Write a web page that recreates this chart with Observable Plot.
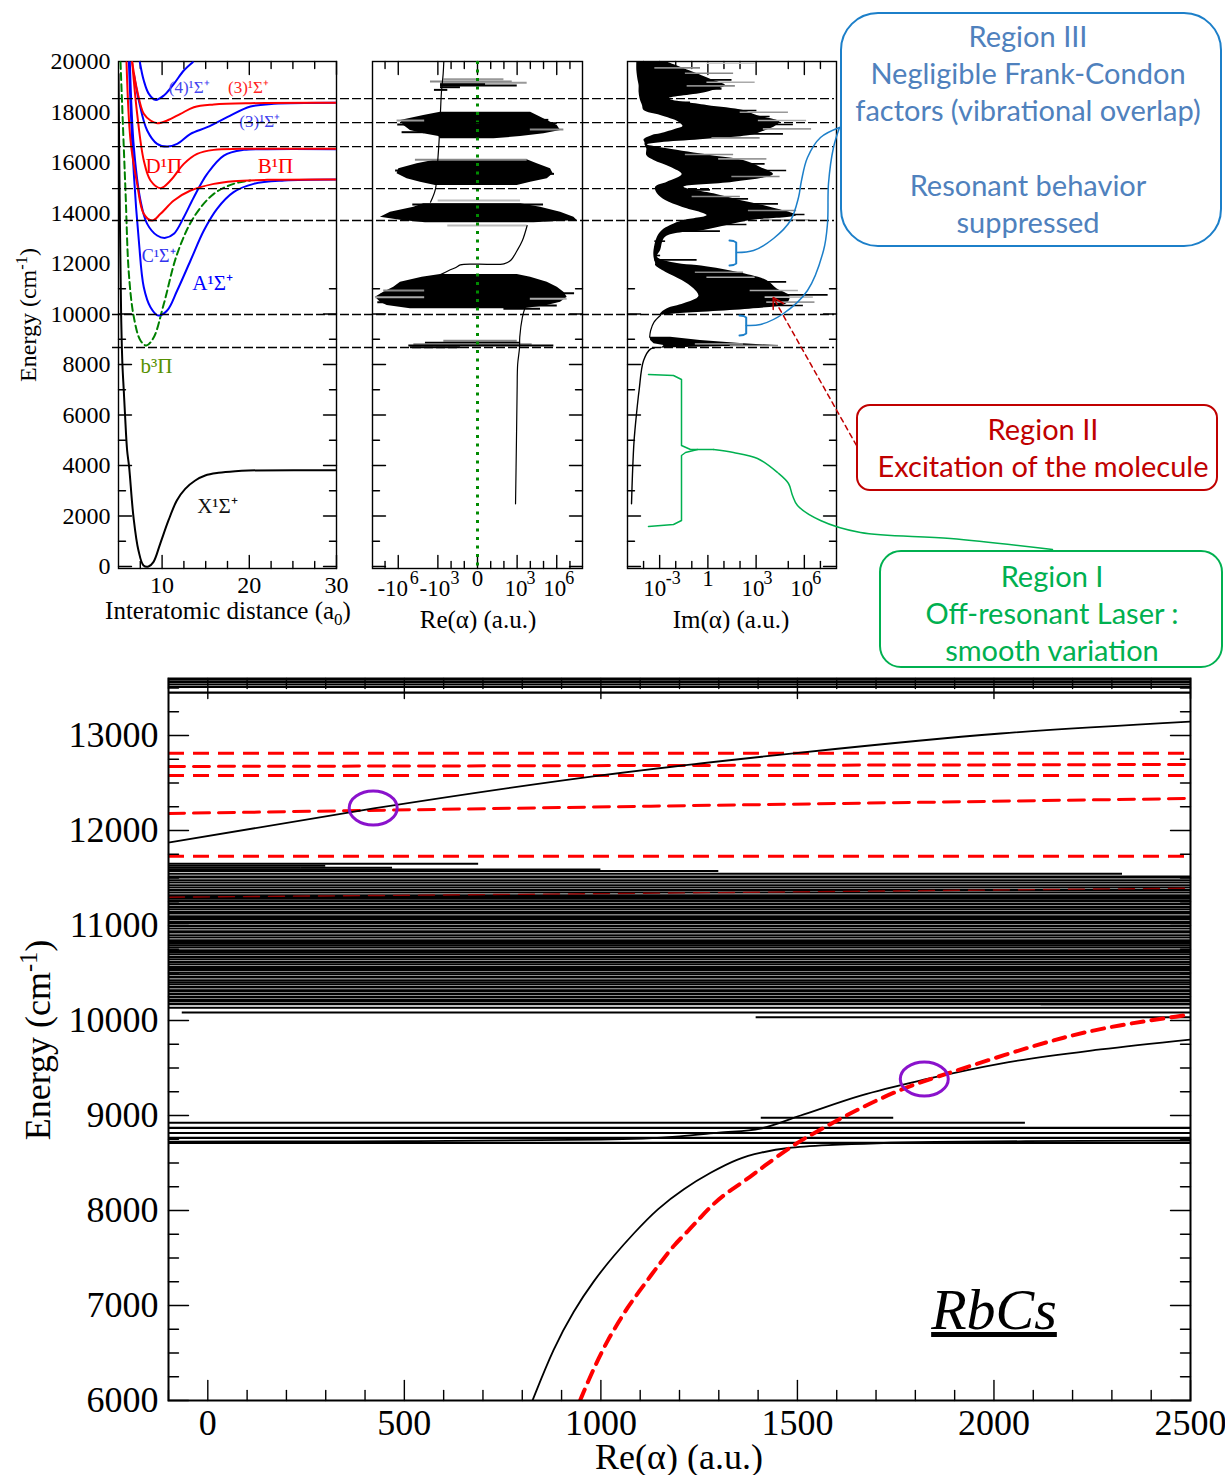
<!DOCTYPE html>
<html><head><meta charset="utf-8">
<script src="https://cdn.jsdelivr.net/npm/d3@7"></script>
<script src="https://cdn.jsdelivr.net/npm/@observablehq/plot@0.6"></script>
<style>
html,body{margin:0;background:#fff}
#stage{position:relative;width:1225px;height:1475px;overflow:hidden;background:#fff}
#stage svg{position:absolute;overflow:visible;background:transparent}
.lab{position:absolute;white-space:nowrap;transform-origin:center;line-height:1}
.box{position:absolute;box-sizing:border-box;background:#fff}
sub,sup{font-size:68%;line-height:0}
</style></head><body><div id="stage"></div>
<script>
// ---------- potential curves (panel A): r in a0, E in cm-1
const xR=[5,5.15,5.3,5.45,5.6,5.75,5.99,6.22,6.72,7.29,7.87,8.44,9,9.78,10.73,11.69,12.65,13.8,14.94,16.47,18.38,19.9,30];
const xE=[19500,14000,10000,8000,7000,6000,4594,3934,1954,634,40,0,172,898,1822,2614,3076,3406,3604,3710,3776,3802,3810];
const aR=[6.19,6.76,7.33,7.9,8.67,9.55,10.58,11.73,13.26,14.79,16.3,18.2,20.5,24,30];
const aE=[19972,15550,12910,11062,10270,9940,10138,10930,12118,13306,14164,14824,15154,15286,15326];
const bR=[5.23,5.8,6.19,6.76,7.52,8.21,9.05,10.2,11.73,13.64,15.93,18.2,20.1];
const bE=[19972,14890,11590,9874,8950,8752,9082,10402,12382,13834,14758,15154,15286];
const cR=[6.3,6.76,7.52,8.29,9.43,10.39,11.35,12.49,13.64,15.17,17.08,19.37,22.05,30];
const cE=[19972,16606,14494,13570,13108,13016,13174,13834,14626,15550,16276,16500,16527,16527];
const bpR=[5.92,6.38,7.14,7.9,8.86,9.82,11.35,13.26,15.93,18.2,22.05,30];
const bpE=[19972,16870,15154,13966,13702,13966,14494,14890,15154,15260,15312,15326];
const dpR=[6.57,7.14,7.9,8.67,9.82,10.96,12.49,14.02,15.93,19,30];
const dpE=[19972,17926,16078,15286,14982,15286,15946,16342,16500,16540,16540];
const s3R=[6.76,7.33,8.29,9.43,10.58,11.73,13.26,15.17,17.46,20.14,22.8,30];
const s3E=[19510,18454,17266,16738,16632,16738,17134,17398,17794,18216,18322,18362];
const r3R=[6.57,7.14,7.9,8.67,9.43,10.58,12.11,13.64,15.93,20.14,30];
const r3E=[19972,18850,17926,17662,17556,17662,17926,18190,18296,18348,18362];
const s4R=[7.45,7.9,8.48,9.24,10.2,11.35,12.49,13.52];
const s4E=[19972,19246,18718,18480,18652,19114,19642,19972];
const stateLabels=["(4)¹Σ⁺","(3)¹Σ⁺","(3)¹Σ⁺","D¹Π","B¹Π","C¹Σ⁺","A¹Σ⁺","b³Π","X¹Σ⁺"];
const stateLabelR=[13.1,19.9,21.2,10.2,23,9.6,15.8,9.36,16.35];
const stateLabelE=[18980,18980,17630,15850,15850,12300,11230,7910,2400];
const stateLabelC=["#4444ee","#ff2222","#4444ee","#ff0000","#ff0000","#3333ee","#0000ff","#559000","#111111"];
const stateLabelS=[17,17,17,21,21,18,21,21,21];
const resonanceE=[18533,17582,16632,14969,13702,9979,8672];
// ---------- Re(alpha) panel: signed log10|alpha|
const reAE=[11564,11458,11260,11062,10864,10666,10468,10336,10204];
const reAL=[-2.8,-4.19,-5.83,-6.34,-7.1,-7.73,-7.35,-6.84,-5.08];
const reAR=[3.01,4.02,5.28,6.04,6.54,6.79,6.29,5.28,3.51];
const reBE=[14362,14230,14032,13834,13702,13610];
const reBL=[-4.07,-4.82,-6.59,-7.35,-5.71,-3.94];
const reBR=[3.26,4.77,6.29,7.3,7.55,4.27];
const reCE=[16104,15946,15748,15550,15352,15220,15088];
const reCL=[-3.06,-4.57,-5.96,-6.09,-5.33,-4.32,-3.18];
const reCR=[3.76,4.52,5.53,5.73,5.28,4.02,3.01];
const reDE=[17992,17860,17662,17464,17266,17134,17028,16936];
const reDL=[-2.8,-4.07,-5.83,-5.58,-5.08,-4.07,-2.93,-2.8];
const reDR=[4.02,4.52,5.28,6.04,6.29,5.03,3.26,1.24];
const reSpikeE=[19299,19206,19154,19101,19048,18982,18876,8937,8858,8805,8752,8686,10930,10758,10666,10468,10824,10732,10600,10336,10204,17662,17504,17200,17688,17556,17306,15682,15550,16104,14494,14336,13504];
const reSpikeA=[-2.55,-3.56,-2.8,-2.8,-2.8,-2.8,-3.26,-2.55,-3.94,-4.82,-5.2,-5.08,-4,-4,-4,-4,4,4,4,4,2,-4,-4,-4,4,4,4,-4,4,-4.7,-2.98,-4.9,-2.25];
const reSpikeB=[2,2.63,3.76,0.61,3.01,-1.29,-2.25,3.01,3.26,4.14,5.78,-1.29,-7.1,-7.35,-7.73,-7.55,7.35,6.67,6.79,6.04,4.77,-6.09,-6.04,-5.71,5.4,6.04,6.54,-6.2,5.83,3.76,3.26,5.0,3.76];
const reSpikeC=["#999","#888","#999","#000","#000","#000","#000","#888","#000","#888","#000","#000","#888","#000","#aaa","#000","#000","#000","#aaa","#000","#000","#999","#000","#000","#000","#000","#888","#000","#000","#888","#bbb","#000","#bbb"];
const reLow=[[2482,2.88],[5000,2.95],[7000,3.0],[8000,3.04],[8650,3.18],[9082,3.2],[9874,3.4],[10250,3.6]];
const reMid=[[11560,-2.8],[11722,-2.17],[11854,-1.6],[11946,-1.3],[11973,0],[11986,2.0],[12118,2.5],[12514,3.0],[12910,3.4],[13504,3.76]];
const reHigh=[[14428,-3.56],[14956,-3.18],[16144,-3.0],[16936,-2.9],[18058,-2.8],[18784,-2.73],[19510,-2.6],[20000,-2.55]];
const reTickExp=[-6,-3,3,6],reBaseTxt=["-10","-10","10","10"],reSupTxt=["6","3","3","6"],reBaseDx=[-5.5,-3,-1,-2],reSupDx=[16,17,14,13];
// ---------- Im(alpha) panel: log10 alpha
const imE=[20000,19642,19246,19048,18784,18520,18256,18058,17860,17596,17424,17332,17134,17068,16896,16780,16698,16540,16276,16078,15814,15524,15220,15022,14758,14494,14230,13900,13702,13504,13306,13042,12514,12250,12000,11920,11656,11326,10996,10692,10402,10204,10006,9950];
const imL=[-4.42,-4.42,-4.34,-4.28,-4.28,-4.22,-4.07,-3.97,-2.94,-1.8,-1.55,-1.9,-2.94,-3.45,-3.97,-3.91,-3.91,-3.8,-3.8,-3.35,-2.32,-1.6,-2.52,-3.25,-3.14,-2.63,-1.6,-0.05,-1.49,-2.32,-2.83,-3.14,-3.35,-3.35,-3.25,-3.25,-2.63,-1.6,-0.87,-0.56,-1.49,-2.52,-2.94,-2.94];
const imR=[-2.63,-1.18,0.37,1.09,-0.05,-2.42,-0.05,2.22,3.05,4.49,4.18,3.87,3.05,2.64,-0.46,-2.94,-3.76,-2.52,0.16,2.22,3.25,4.08,1.6,-1.49,0.37,2.02,3.87,5.52,2.64,1.19,-0.25,-2.63,-2.94,-3.14,-1.9,-0.67,1.81,3.67,4.29,5.11,4.9,2.84,-1.9,-2.84];
const imLowBandE=[9082,8950,8818,8752,8686,8646];
const imLowBandL=[-3.6,-3.56,-3.35,-2.73,-2.83,-3.35];
const imLowBandR=[-2.32,-0.46,2.22,4.29,-0.87,-3.25];
const imCurveHigh=[[9950,-2.94],[9676,-3.35],[9346,-3.56],[9082,-3.62]];
const imCurveLow=[[8646,-3.35],[8620,-3.56],[8158,-4.0],[6970,-4.28],[6046,-4.44],[4990,-4.59],[3670,-4.69],[2482,-4.75]];
const imSpikeE=[19932,19748,19536,19272,19180,19035,18916,18388,18216,18058,17992,17820,17662,17504,17332,17134,16976,16316,16144,15946,15682,15444,14916,14652,14560,14362,14098,13940,13728,13544,13280,12884,12646,12316,12144,11656,11458,11273,10930,10758,10666,10468,10336,10270,8818,8752];
const imSpikeTo=[2.94,-0.46,1.6,1.5,2.94,1.71,0.88,-1.08,-0.05,3.05,5.01,3.87,6.14,5.32,6.45,4.7,3.25,1.6,3.67,3.56,4.9,4.49,0.16,2.02,2.53,4.39,5.52,6.04,6.35,2.43,0.78,-2.63,-3.14,-2.94,-0.67,2.22,2.94,4.9,5.63,7.48,6.56,6.66,5.94,3.05,2.22,4.39];
const imSpikeC=["#ccc","#888","#888","#000","#aaa","#888","#000","#000","#000","#000","#999","#000","#aaa","#000","#999","#000","#888","#888","#999","#000","#000","#888","#000","#888","#000","#000","#888","#000","#aaa","#000","#000","#000","#000","#000","#000","#888","#aaa","#000","#aaa","#000","#bbb","#999","#000","#000","#888","#888"];
const imTickExp=[-3,3,6],imSupTxt=["-3","3","6"],imBaseDx=[-5,-3,-2.5],imSupDx=[13.5,12,12.5];
// ---------- bottom panel
const fullLevels=[13587,13562,13537,13510,13451,
11516,11505,11477,11452,11424,11400,11372,11347,11319,11300,11281,11259,11231,11224,11196,11171,11143,11126,11098,11080,11066,11038,11024,10996,10968,10940,10926,10898,10873,10845,10827,10809,10790,10768,10740,10720,10698,10670,10645,10617,10592,10564,10545,10533,10505,10487,10459,10452,10424,10403,10382,10354,10347,10319,10312,10284,10277,10249,10242,10214,10207,10179,10171,10135,
8870,8816,8765,8712];
const partE=[11650,11608,11608,11575,11545,10084,10035,10170,8923,8976,11630,11590];
const partFrom=[-100,-100,236,-100,-100,-65,1395,2120,-100,1408,-100,-100];
const partTo=[689,236,470,1300,2327,2500,2500,2500,2080,1745,300,1000];
const upperA=[-100,422,1000,1508,2017,2500];
const upperE=[11874,12232,12580,12820,13021,13147];
const lowerA=[826,826,880,931,982,1033,1083,1144,1211,1279,1348,1406,1475,1559,1762,2500,2500];
const lowerE=[6000,6000,6558,6947,7263,7526,7758,8021,8232,8400,8547,8611,8663,8684,8726,8737,8737];
const midA=[-100,500,1000,1200,1300,1406,1508,1661,1824,2017,2271,2500];
const midE=[8725,8730,8745,8780,8820,8863,9000,9210,9379,9547,9695,9800];
const flatRed=[12813,12579,11730];
const red2A=[-100,2500];const red2E=[12674,12695];
const redSlopeA=[-100,1127,2500];const redSlopeE=[12179,12256,12337];
const redFaintA=[-100,1000,2500];const redFaintE=[11298,11335,11393];
const redCurveA=[947,947,972,994,1017,1043,1068,1096,1127,1156,1185,1223,1254,1287,1322,1368,1411,1495,1541,1622,1762,1890,2100,2271,2500,2500];
const redCurveE=[6000,6000,6245,6442,6632,6811,6982,7140,7316,7474,7632,7789,7930,8074,8193,8316,8456,8705,8810,9000,9284,9453,9737,9926,10063,10063];
const crossA=[422,1824];const crossE=[12232,9379];
// ---------- annotation leaders (page coordinates)
const leaderBlue1=[[736,252],[753,250],[773,238],[790,220],[798,197],[801,180],[807,157],[820,137],[839,127]];
const leaderBlue2=[[745.7,325],[760,324],[783,313],[807,290],[823,250],[827,223],[828,183],[833,147],[839,127]];
const bracketBlue1=[[729,240],[733,240.5],[735.7,242],[735.7,263],[733,264.5],[729,265]];
const bracketBlue2=[[739,315],[743,315.5],[745.7,317],[745.7,333],[743,334.5],[739,335]];
const bracketGreenA=[[648,374],[673,375],[681,379],[681,445],[690,449],[713,449]];
const bracketGreenB=[[648,526],[673,524],[681,520],[681,455],[685,452],[697,449]];
const leaderGreen=[[713,449],[733,452],[757,458],[777,472],[788,483],[792,495],[797,505],[820,520],[860,532],[950,538],[1052,549]];
const leaderRed=[[856,445],[772.7,297]];
const arrowRed=[[772.7,309],[772.7,297],[783,303]];

const SERIF="'Liberation Serif','Times New Roman',serif";
const stage=document.getElementById("stage");
const pts=(X,Y)=>X.map((x,i)=>[x,Y[i]]);
const sp=d=>Math.sign(d)*(10**Math.abs(d)-1);
const tickShape={draw(c,l){c.moveTo(0,0);c.lineTo(0,-l);}};
const vecX=(v,len,sw,anchor,rot)=>Plot.vector(v,{x:d=>d,frameAnchor:anchor,length:len,anchor:"start",rotate:rot,shape:tickShape,stroke:"#000",strokeWidth:sw});
const vecY=(v,len,sw,anchor,rot)=>Plot.vector(v,{y:d=>d,frameAnchor:anchor,length:len,anchor:"start",rotate:rot,shape:tickShape,stroke:"#000",strokeWidth:sw});
const ticksX=(major,minor,lm,ln,sw=1.4)=>[vecX(major,lm,sw,"bottom",0),vecX(minor,ln,sw,"bottom",0),vecX(major,lm,sw,"top",180),vecX(minor,ln,sw,"top",180)];
const ticksY=(major,minor,lm,ln,sw=1.4)=>[vecY(major,lm,sw,"left",90),vecY(minor,ln,sw,"left",90),vecY(major,lm,sw,"right",-90),vecY(minor,ln,sw,"right",-90)];
function place(svg,l,t,z){svg.style.left=l+"px";svg.style.top=t+"px";if(z)svg.style.zIndex=z;stage.appendChild(svg);return svg;}
function lab(cx,cy,html,font,color="#000",rot=0,z=5){const d=document.createElement("div");d.className="lab";d.innerHTML=html;d.style.font=font;d.style.left=cx+"px";d.style.top=cy+"px";d.style.color=color;d.style.zIndex=z;d.style.lineHeight="1";d.style.transform=`translate(-50%,-50%) rotate(${rot}deg)`;stage.appendChild(d);return d;}
function box(l,t,r,b,rad,color){const d=document.createElement("div");d.className="box";d.style.cssText+=`left:${l}px;top:${t}px;width:${r-l}px;height:${b-t}px;border:2px solid ${color};border-radius:${rad}px;z-index:3`;stage.appendChild(d);}

const topStyle={fontFamily:SERIF,background:"transparent",overflow:"visible"};
const yMajorTop=[0,2000,4000,6000,8000,10000],yMinorTop=[1000,3000,5000,7000,9000,11000];
const yLine=(X,Y,o)=>Plot.line(pts(X,Y),{x:"0",y:"1",curve:"catmull-rom",clip:true,...o});

// ---------- Panel A
place(Plot.plot({style:topStyle,width:326,height:550,marginLeft:88,marginRight:20,marginTop:11,marginBottom:32,
  x:{domain:[5,30]},y:{domain:[-80,20000]},
  marks:[
    Plot.frame({stroke:"#000",strokeWidth:1.4}),
    ...ticksX([10,20,30],[7.5,12.5,15,17.5,22.5,25,27.5],13,7),
    ...ticksY(yMajorTop,yMinorTop,13,7),
    Plot.axisY({ticks:d3.range(0,20001,2000),tickSize:0,tickPadding:8,fontSize:24,label:null,tickFormat:d=>String(d)}),
    Plot.axisX({ticks:[10,20,30],tickSize:0,tickPadding:7,fontSize:24,label:null,tickFormat:d=>String(d)}),
    yLine(xR,xE,{stroke:"#000",strokeWidth:2}),
    yLine(bR,bE,{stroke:"#008000",strokeWidth:2,strokeDasharray:"7,4"}),
    yLine(aR,aE,{stroke:"#0000ff",strokeWidth:2}),
    yLine(cR,cE,{stroke:"#0000ff",strokeWidth:2}),
    yLine(s3R,s3E,{stroke:"#0000ff",strokeWidth:2}),
    yLine(s4R,s4E,{stroke:"#0000ff",strokeWidth:2}),
    yLine(bpR,bpE,{stroke:"#ff0000",strokeWidth:2}),
    yLine(dpR,dpE,{stroke:"#ff0000",strokeWidth:2}),
    yLine(r3R,r3E,{stroke:"#ff0000",strokeWidth:2}),
    Plot.text(stateLabels,{x:(d,i)=>stateLabelR[i],y:(d,i)=>stateLabelE[i],text:d=>d,fill:(d,i)=>stateLabelC[i],fontSize:(d,i)=>stateLabelS[i]})
  ]}),30,50);

// ---------- Panel B
const reBand=(E,L,R)=>Plot.areaX(E.map((e,i)=>({e,a:sp(L[i]),b:sp(R[i])})),{y:"e",x1:"a",x2:"b",fill:"#000"});
const reLine=a=>Plot.line(a,{x:d=>sp(d[1]),y:d=>d[0],stroke:"#000",strokeWidth:1.2,curve:"catmull-rom"});
const reDom=sp(7.95);
place(Plot.plot({style:topStyle,width:230,height:550,marginLeft:10,marginRight:10,marginTop:11,marginBottom:32,
  x:{type:"symlog",constant:1,domain:[-reDom,reDom],axis:null},y:{domain:[-80,20000],axis:null},
  marks:[
    Plot.frame({stroke:"#000",strokeWidth:1.4}),
    ...ticksX([-6,-3,0,3,6].map(sp),[-7,-2,-1,1,2,4,5,7].map(sp),13,7),
    ...ticksY(yMajorTop,yMinorTop,13,7),
    reBand(reAE,reAL,reAR),reBand(reBE,reBL,reBR),reBand(reCE,reCL,reCR),reBand(reDE,reDL,reDR),
    Plot.ruleY(reSpikeE,{y:d=>d,x1:(d,i)=>sp(reSpikeA[i]),x2:(d,i)=>sp(reSpikeB[i]),stroke:(d,i)=>reSpikeC[i],strokeWidth:2}),
    reLine(reLow),reLine(reMid),reLine(reHigh),
    Plot.ruleX([0],{stroke:"#008a00",strokeWidth:3,strokeDasharray:"3,5.5"}),
    ...reTickExp.map((d,i)=>Plot.text([sp(d)],{x:v=>v,frameAnchor:"bottom",dy:27,dx:reBaseDx[i],text:()=>reBaseTxt[i],fontSize:23})),
    ...reTickExp.map((d,i)=>Plot.text([sp(d)],{x:v=>v,frameAnchor:"bottom",dy:15,dx:reSupDx[i],text:()=>reSupTxt[i],fontSize:18})),
    Plot.text([0],{x:v=>v,frameAnchor:"bottom",dy:17,text:()=>"0",fontSize:23})
  ]}),362,50);

// ---------- Panel C
place(Plot.plot({style:topStyle,width:229,height:550,marginLeft:10,marginRight:10,marginTop:11,marginBottom:32,
  x:{type:"log",domain:[1e-5,1e8],axis:null},y:{domain:[-80,20000],axis:null},
  marks:[
    Plot.frame({stroke:"#000",strokeWidth:1.4}),
    ...ticksX([-3,0,3,6].map(d=>10**d),[-4,-2,-1,1,2,5,7].map(d=>10**d),13,7),
    ...ticksY(yMajorTop,yMinorTop,13,7),
    Plot.areaX(imE.map((e,i)=>({e,a:10**imL[i],b:10**imR[i]})),{y:"e",x1:"a",x2:"b",fill:"#000",curve:"catmull-rom",clip:true}),
    Plot.areaX(imLowBandE.map((e,i)=>({e,a:10**imLowBandL[i],b:10**imLowBandR[i]})),{y:"e",x1:"a",x2:"b",fill:"#000"}),
    Plot.ruleY(imSpikeE,{y:d=>d,x1:(d,i)=>10**Math.max(imSpikeTo[i]-3,-3.3),x2:(d,i)=>10**imSpikeTo[i],stroke:(d,i)=>imSpikeC[i],strokeWidth:1.6}),
    Plot.line(imCurveHigh,{x:d=>10**d[1],y:d=>d[0],stroke:"#000",strokeWidth:1.2,curve:"catmull-rom"}),
    Plot.line(imCurveLow,{x:d=>10**d[1],y:d=>d[0],stroke:"#000",strokeWidth:1.4,curve:"catmull-rom"}),
    ...imTickExp.map((d,i)=>Plot.text([10**d],{x:v=>v,frameAnchor:"bottom",dy:27,dx:imBaseDx[i],text:()=>"10",fontSize:23})),
    ...imTickExp.map((d,i)=>Plot.text([10**d],{x:v=>v,frameAnchor:"bottom",dy:15,dx:imSupDx[i],text:()=>imSupTxt[i],fontSize:18})),
    Plot.text([1],{x:v=>v,frameAnchor:"bottom",dy:17,text:()=>"1",fontSize:23})
  ]}),617,50);

// ---------- dashed resonance lines across the three upper panels
place(Plot.plot({style:topStyle,width:722,height:518,marginLeft:0,marginRight:0,marginTop:11,marginBottom:0,
  x:{axis:null,domain:[0,1]},y:{axis:null,domain:[-80,20000]},
  marks:[Plot.ruleY(resonanceE,{stroke:"#000",strokeWidth:1.3,strokeDasharray:"9,3"})]}),112,50,2);

// ---------- Bottom panel
const ellipse=(i,scales)=>{const g=document.createElementNS("http://www.w3.org/2000/svg","g");
  crossA.forEach((a,k)=>{const e=document.createElementNS("http://www.w3.org/2000/svg","ellipse");
    e.setAttribute("cx",scales.x(a));e.setAttribute("cy",scales.y(crossE[k]));e.setAttribute("rx",24);e.setAttribute("ry",17);
    e.setAttribute("fill","none");e.setAttribute("stroke","#8a12cc");e.setAttribute("stroke-width",3);g.appendChild(e);});return g;};
const bl=(X,Y,o)=>Plot.line(pts(X,Y),{x:"0",y:"1",clip:true,...o});
place(Plot.plot({style:{...topStyle},width:1225,height:807,marginLeft:168,marginRight:35,marginTop:10,marginBottom:75,
  x:{domain:[-100,2500]},y:{domain:[6000,13600]},
  marks:[
    Plot.ruleY(fullLevels,{stroke:"#000",strokeWidth:2.1}),
    Plot.ruleY(partE,{y:d=>d,x1:(d,i)=>partFrom[i],x2:(d,i)=>partTo[i],stroke:"#000",strokeWidth:2}),
    Plot.ruleY(flatRed,{stroke:"#ff0000",strokeWidth:3,strokeDasharray:"16,9"}),
    bl(red2A,red2E,{stroke:"#ff0000",strokeWidth:3,strokeDasharray:"16,9"}),
    bl(redSlopeA,redSlopeE,{stroke:"#ff0000",strokeWidth:3,strokeDasharray:"16,9"}),
    bl(redFaintA,redFaintE,{stroke:"#900000",strokeWidth:1.4,strokeDasharray:"16,9"}),
    bl(upperA,upperE,{stroke:"#000",strokeWidth:1.8,curve:"monotone-x"}),
    bl(midA,midE,{stroke:"#000",strokeWidth:1.8,curve:"monotone-x"}),
    bl(lowerA,lowerE,{stroke:"#000",strokeWidth:1.8,curve:"basis"}),
    bl(redCurveA,redCurveE,{stroke:"#ff0000",strokeWidth:4,strokeDasharray:"12,8",curve:"basis"}),
    ellipse,
    Plot.frame({stroke:"#000",strokeWidth:2}),
    ...ticksX(d3.range(0,2501,500),d3.range(-100,2500,100).filter(d=>d%500!==0),20,10),
    ...ticksY(d3.range(6000,13001,1000),d3.range(6250,13600,250).filter(d=>d%1000!==0),20,10),
    Plot.axisY({ticks:d3.range(6000,13001,1000),tickSize:0,tickPadding:10,fontSize:36,label:null,tickFormat:d=>String(d)}),
    Plot.axisX({ticks:d3.range(0,2501,500),tickSize:0,tickPadding:9,fontSize:36,label:null,tickFormat:d=>String(d)})
  ]}),0,668);

// ---------- leaders
const lk=(a,c,o={})=>Plot.line(a,{x:"0",y:"1",stroke:c,strokeWidth:1.5,curve:"catmull-rom",...o});
place(Plot.plot({style:topStyle,width:1225,height:1475,margin:0,x:{axis:null,domain:[0,1225]},y:{axis:null,domain:[0,1475],range:[0,1475]},
  marks:[
    lk(leaderBlue1,"#1c7fc9"),lk(leaderBlue2,"#1c7fc9"),
    lk(bracketBlue1,"#1c7fc9",{curve:"linear",strokeWidth:2}),lk(bracketBlue2,"#1c7fc9",{curve:"linear",strokeWidth:2}),
    lk(bracketGreenA,"#00b050",{curve:"linear"}),lk(bracketGreenB,"#00b050",{curve:"linear"}),lk(leaderGreen,"#00b050"),
    lk(leaderRed,"#c00000",{curve:"linear",strokeDasharray:"5,4"}),lk(arrowRed,"#c00000",{curve:"linear"})
  ]}),0,0,4);

// ---------- boxes and text
box(840,12,1222,247,38,"#1c7fc9");
box(856,404,1218,491,14,"#c00000");
box(879,550,1223,668,22,"#00b050");
const SANS="Lato,'Open Sans',sans-serif";
const blueT="#4f81bd",redT="#c00000",grnT="#00b050";
[["Region III",34.5],["Negligible Frank-Condon",71.5],["factors (vibrational overlap)",108.5],["Resonant behavior",183.5],["suppressed",220.5]].forEach(([t,y])=>lab(1028,y,t,`29px ${SANS}`,blueT));
lab(1043,427.5,"Region II",`29px ${SANS}`,redT);
lab(1043,464.5,"Excitation of the molecule",`29px ${SANS}`,redT);
[["Region I",574.5],["Off-resonant Laser :",611.5],["smooth variation",648.5]].forEach(([t,y])=>lab(1052,y,t,`29px ${SANS}`,grnT));
lab(228,610,"Interatomic distance (a<sub>0</sub>)",`25px ${SERIF}`);
lab(478,619,"Re(α) (a.u.)",`25px ${SERIF}`);
lab(731,619,"Im(α) (a.u.)",`25px ${SERIF}`);
lab(28,315,"Energy (cm<sup>-1</sup>)",`24px ${SERIF}`,"#000",-90);
lab(679,1456.5,"Re(α) (a.u.)",`36px ${SERIF}`);
lab(38,1040,"Energy (cm<sup>-1</sup>)",`36px ${SERIF}`,"#000",-90);
lab(994,1310,"<u>RbCs</u>",`italic 58px ${SERIF}`);
</script></body></html>
